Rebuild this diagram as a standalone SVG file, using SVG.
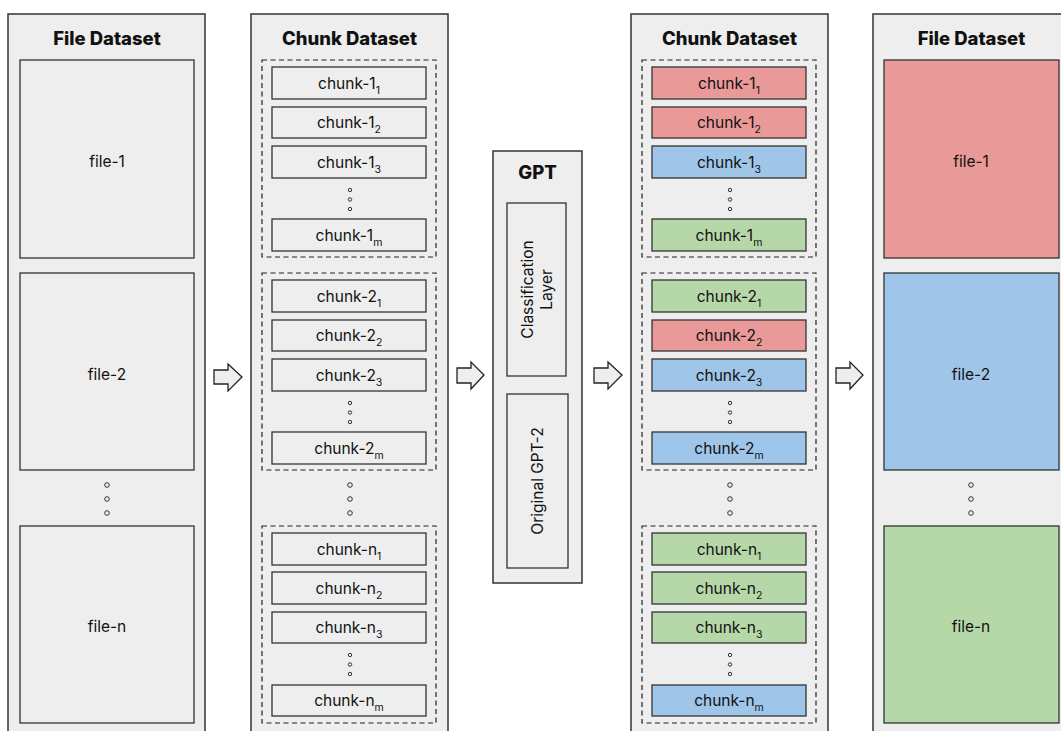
<svg xmlns="http://www.w3.org/2000/svg" width="1061" height="731" viewBox="0 0 1061 731">
<defs>
<style>
.panel{fill:#eeeeee;stroke:#333333;stroke-width:1.5}
.box{fill:#eeeeee;stroke:#333333;stroke-width:1.3}
.dash{fill:none;stroke:#222222;stroke-width:1.2;stroke-dasharray:5,3.5}
.red{fill:#ea9999}
.blue{fill:#9fc5e8}
.green{fill:#b6d7a8}
.title{font-family:Inter,"Liberation Sans",sans-serif;font-weight:800;font-size:18.5px;fill:#111;text-anchor:middle}
.lbl{font-family:Inter,"Liberation Sans",sans-serif;font-size:15.5px;fill:#111;text-anchor:middle}
.sub{font-size:10.5px}
.dot{fill:none;stroke:#333;stroke-width:1}
.arrow{fill:#eeeeee;stroke:#222222;stroke-width:1.3;stroke-linejoin:miter}
</style>
</defs>
<rect width="1061" height="731" fill="#ffffff"/>

<!-- Left file dataset -->
<g id="file-dataset-left">
<rect class="panel" x="8" y="14" width="197" height="730"/>
<text class="title" x="107" y="45">File Dataset</text>
<rect class="box" x="20" y="60" width="174" height="198"/>
<text class="lbl" x="107" y="167">file-1</text>
<rect class="box" x="20" y="273" width="174" height="197"/>
<text class="lbl" x="107" y="380">file-2</text>
<circle class="dot" cx="107" cy="485" r="2.3"/>
<circle class="dot" cx="107" cy="499" r="2.3"/>
<circle class="dot" cx="107" cy="513" r="2.3"/>
<rect class="box" x="20" y="526" width="174" height="197"/>
<text class="lbl" x="107" y="632">file-n</text>
</g>

<!-- Left chunk dataset -->
<g id="chunk-dataset-left">
<rect class="panel" x="251" y="14" width="197" height="730"/>
<text class="title" x="349.5" y="45">Chunk Dataset</text>
<rect class="dash" x="262" y="60" width="174" height="197"/>
<rect class="box" x="272" y="67" width="154" height="32"/>
<text class="lbl" x="349" y="89">chunk-1<tspan class="sub" dy="5">1</tspan></text>
<rect class="box" x="272" y="107" width="154" height="31"/>
<text class="lbl" x="349" y="128">chunk-1<tspan class="sub" dy="5">2</tspan></text>
<rect class="box" x="272" y="146" width="154" height="32"/>
<text class="lbl" x="349" y="168">chunk-1<tspan class="sub" dy="5">3</tspan></text>
<circle class="dot" cx="350" cy="190" r="1.7"/>
<circle class="dot" cx="350" cy="199.5" r="1.7"/>
<circle class="dot" cx="350" cy="209" r="1.7"/>
<rect class="box" x="272" y="219" width="154" height="32"/>
<text class="lbl" x="349" y="241">chunk-1<tspan class="sub" dy="5">m</tspan></text>

<rect class="dash" x="262" y="273" width="174" height="197"/>
<rect class="box" x="272" y="280" width="154" height="32"/>
<text class="lbl" x="349" y="302">chunk-2<tspan class="sub" dy="5">1</tspan></text>
<rect class="box" x="272" y="320" width="154" height="31"/>
<text class="lbl" x="349" y="341">chunk-2<tspan class="sub" dy="5">2</tspan></text>
<rect class="box" x="272" y="359" width="154" height="32"/>
<text class="lbl" x="349" y="381">chunk-2<tspan class="sub" dy="5">3</tspan></text>
<circle class="dot" cx="350" cy="403" r="1.7"/>
<circle class="dot" cx="350" cy="412.5" r="1.7"/>
<circle class="dot" cx="350" cy="422" r="1.7"/>
<rect class="box" x="272" y="432" width="154" height="32"/>
<text class="lbl" x="349" y="454">chunk-2<tspan class="sub" dy="5">m</tspan></text>

<circle class="dot" cx="350" cy="485" r="2.3"/>
<circle class="dot" cx="350" cy="499" r="2.3"/>
<circle class="dot" cx="350" cy="513" r="2.3"/>

<rect class="dash" x="262" y="526" width="174" height="197"/>
<rect class="box" x="272" y="533" width="154" height="32"/>
<text class="lbl" x="349" y="555">chunk-n<tspan class="sub" dy="5">1</tspan></text>
<rect class="box" x="272" y="572" width="154" height="32"/>
<text class="lbl" x="349" y="594">chunk-n<tspan class="sub" dy="5">2</tspan></text>
<rect class="box" x="272" y="612" width="154" height="31"/>
<text class="lbl" x="349" y="633">chunk-n<tspan class="sub" dy="5">3</tspan></text>
<circle class="dot" cx="350" cy="655" r="1.7"/>
<circle class="dot" cx="350" cy="664.5" r="1.7"/>
<circle class="dot" cx="350" cy="674" r="1.7"/>
<rect class="box" x="272" y="685" width="154" height="31"/>
<text class="lbl" x="349" y="706">chunk-n<tspan class="sub" dy="5">m</tspan></text>
</g>

<!-- GPT -->
<g id="gpt">
<rect class="panel" x="493" y="151" width="89" height="432"/>
<text class="title" x="537.5" y="179">GPT</text>
<rect class="box" x="507" y="203" width="59" height="173"/>
<text class="lbl" transform="translate(536.5,289.5) rotate(-90)"><tspan x="0" y="-4">Classification</tspan><tspan x="0" y="15">Layer</tspan></text>
<rect class="box" x="507" y="394" width="61" height="174"/>
<text class="lbl" transform="translate(537.5,481) rotate(-90)" x="0" y="5">Original GPT-2</text>
</g>

<!-- Right chunk dataset -->
<g id="chunk-dataset-right">
<rect class="panel" x="631" y="14" width="197" height="730"/>
<text class="title" x="729.5" y="45">Chunk Dataset</text>
<rect class="dash" x="642" y="60" width="174" height="197"/>
<rect class="box red" x="652" y="67" width="154" height="32"/>
<text class="lbl" x="729" y="89">chunk-1<tspan class="sub" dy="5">1</tspan></text>
<rect class="box red" x="652" y="107" width="154" height="31"/>
<text class="lbl" x="729" y="128">chunk-1<tspan class="sub" dy="5">2</tspan></text>
<rect class="box blue" x="652" y="146" width="154" height="32"/>
<text class="lbl" x="729" y="168">chunk-1<tspan class="sub" dy="5">3</tspan></text>
<circle class="dot" cx="730" cy="190" r="1.7"/>
<circle class="dot" cx="730" cy="199.5" r="1.7"/>
<circle class="dot" cx="730" cy="209" r="1.7"/>
<rect class="box green" x="652" y="219" width="154" height="32"/>
<text class="lbl" x="729" y="241">chunk-1<tspan class="sub" dy="5">m</tspan></text>

<rect class="dash" x="642" y="273" width="174" height="197"/>
<rect class="box green" x="652" y="280" width="154" height="32"/>
<text class="lbl" x="729" y="302">chunk-2<tspan class="sub" dy="5">1</tspan></text>
<rect class="box red" x="652" y="320" width="154" height="31"/>
<text class="lbl" x="729" y="341">chunk-2<tspan class="sub" dy="5">2</tspan></text>
<rect class="box blue" x="652" y="359" width="154" height="32"/>
<text class="lbl" x="729" y="381">chunk-2<tspan class="sub" dy="5">3</tspan></text>
<circle class="dot" cx="730" cy="403" r="1.7"/>
<circle class="dot" cx="730" cy="412.5" r="1.7"/>
<circle class="dot" cx="730" cy="422" r="1.7"/>
<rect class="box blue" x="652" y="432" width="154" height="32"/>
<text class="lbl" x="729" y="454">chunk-2<tspan class="sub" dy="5">m</tspan></text>

<circle class="dot" cx="730" cy="485" r="2.3"/>
<circle class="dot" cx="730" cy="499" r="2.3"/>
<circle class="dot" cx="730" cy="513" r="2.3"/>

<rect class="dash" x="642" y="526" width="174" height="197"/>
<rect class="box green" x="652" y="533" width="154" height="32"/>
<text class="lbl" x="729" y="555">chunk-n<tspan class="sub" dy="5">1</tspan></text>
<rect class="box green" x="652" y="572" width="154" height="32"/>
<text class="lbl" x="729" y="594">chunk-n<tspan class="sub" dy="5">2</tspan></text>
<rect class="box green" x="652" y="612" width="154" height="31"/>
<text class="lbl" x="729" y="633">chunk-n<tspan class="sub" dy="5">3</tspan></text>
<circle class="dot" cx="730" cy="655" r="1.7"/>
<circle class="dot" cx="730" cy="664.5" r="1.7"/>
<circle class="dot" cx="730" cy="674" r="1.7"/>
<rect class="box blue" x="652" y="685" width="154" height="31"/>
<text class="lbl" x="729" y="706">chunk-n<tspan class="sub" dy="5">m</tspan></text>
</g>

<!-- Right file dataset -->
<g id="file-dataset-right">
<rect class="panel" x="873" y="14" width="197" height="730"/>
<text class="title" x="971.5" y="45">File Dataset</text>
<rect class="box red" x="884" y="60" width="175" height="198"/>
<text class="lbl" x="971" y="167">file-1</text>
<rect class="box blue" x="884" y="273" width="175" height="197"/>
<text class="lbl" x="971" y="380">file-2</text>
<circle class="dot" cx="971" cy="485" r="2.3"/>
<circle class="dot" cx="971" cy="499" r="2.3"/>
<circle class="dot" cx="971" cy="513" r="2.3"/>
<rect class="box green" x="884" y="526" width="175" height="197"/>
<text class="lbl" x="971" y="632">file-n</text>
</g>

<!-- Connectors -->
<g id="connectors">
<polygon class="arrow" points="214,370 228,370 228,364 242,377 228,391 228,384 214,384"/>
<polygon class="arrow" points="457,368 471,368 471,362 484,375 471,389 471,383 457,383"/>
<polygon class="arrow" points="594,368 608,368 608,362 622,375 608,389 608,383 594,383"/>
<polygon class="arrow" points="836,368 850,368 850,362 863,375 850,389 850,383 836,383"/>
</g>
</svg>
